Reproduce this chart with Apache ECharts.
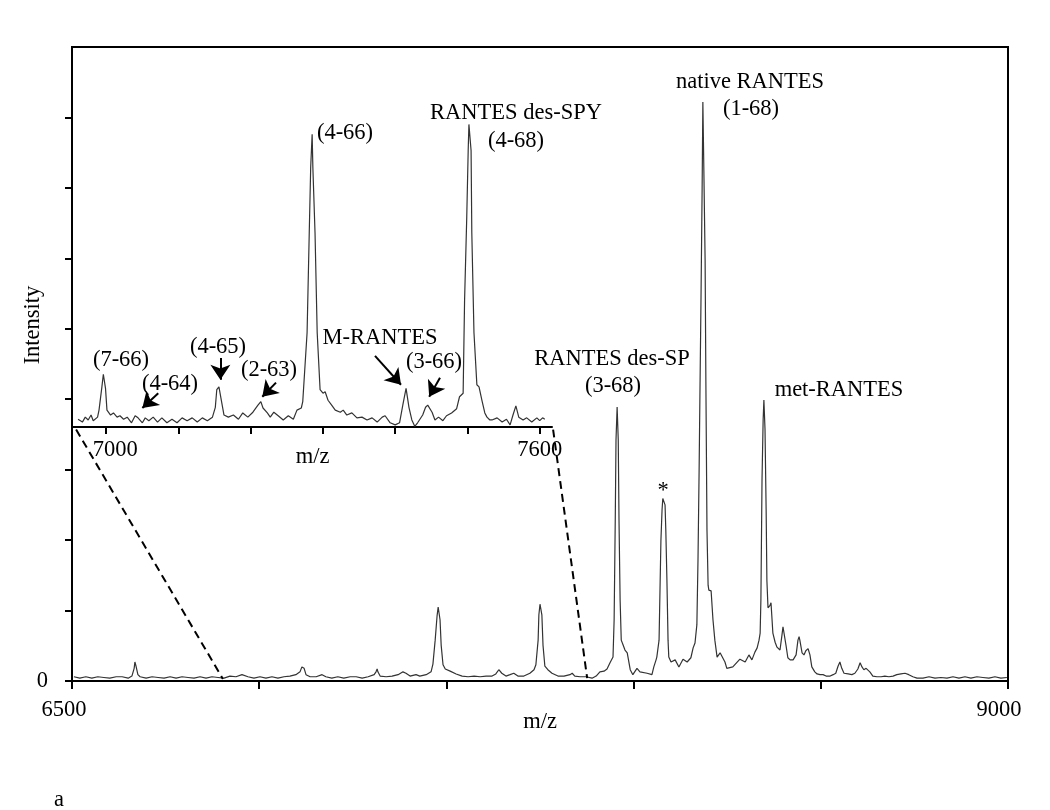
<!DOCTYPE html>
<html>
<head>
<meta charset="utf-8">
<title>RANTES mass spectrum</title>
<script src="https://cdn.jsdelivr.net/npm/echarts@6.0.0/dist/echarts.min.js"></script>
<style>
  html, body { margin: 0; padding: 0; background: #fff; }
  #chart { width: 1050px; height: 810px; }
</style>
</head>
<body>
<div id="chart"></div>
<script>
// full spectrum (m/z 6500 - 9000)
const mainMz = [
  6505, 6521, 6537, 6553, 6569, 6585, 6601, 6618, 6634, 6650, 6660, 6666, 6668, 6671, 6676, 6682,
  6698, 6714, 6730, 6746, 6762, 6778, 6794, 6810, 6826, 6842, 6858, 6874, 6890, 6906, 6922, 6938,
  6954, 6970, 6986, 7002, 7018, 7034, 7050, 7066, 7082, 7098, 7109, 7114, 7117, 7120, 7125, 7136,
  7152, 7168, 7178, 7194, 7210, 7226, 7243, 7259, 7275, 7291, 7307, 7312, 7315, 7317, 7323, 7339,
  7355, 7371, 7384, 7392, 7403, 7419, 7429, 7446, 7459, 7464, 7470, 7475, 7478, 7481, 7483, 7486,
  7491, 7497, 7510, 7526, 7542, 7558, 7574, 7590, 7606, 7622, 7632, 7640, 7643, 7648, 7659, 7670,
  7680, 7691, 7707, 7723, 7734, 7739, 7745, 7747, 7750, 7753, 7755, 7758, 7763, 7771, 7782, 7798,
  7814, 7830, 7836, 7843, 7857, 7873, 7889, 7900, 7910, 7921, 7929, 7937, 7945, 7948, 7951, 7953,
  7956, 7959, 7961, 7964, 7967, 7972, 7977, 7983, 7991, 7998, 8009, 8017, 8022, 8036, 8049, 8054,
  8060, 8062, 8068, 8070, 8073, 8076, 8078, 8081, 8084, 8086, 8089, 8092, 8094, 8100, 8111, 8121,
  8132, 8143, 8153, 8159, 8164, 8169, 8172, 8175, 8177, 8180, 8183, 8185, 8188, 8191, 8193, 8196,
  8199, 8201, 8207, 8212, 8217, 8223, 8231, 8236, 8244, 8249, 8265, 8284, 8298, 8308, 8316, 8324,
  8330, 8335, 8338, 8340, 8343, 8346, 8348, 8351, 8354, 8356, 8359, 8364, 8367, 8372, 8378, 8383,
  8391, 8396, 8399, 8402, 8407, 8412, 8418, 8426, 8434, 8439, 8442, 8444, 8450, 8455, 8460, 8466,
  8471, 8476, 8484, 8490, 8498, 8506, 8514, 8525, 8533, 8540, 8546, 8551, 8556, 8562, 8573, 8583,
  8591, 8599, 8605, 8610, 8615, 8621, 8626, 8631, 8639, 8650, 8661, 8671, 8682, 8693, 8703, 8714,
  8725, 8735, 8746, 8757, 8773, 8789, 8805, 8821, 8837, 8853, 8869, 8885, 8901, 8917, 8933, 8949,
  8965, 8981, 8997
];
const mainIntensity = [
  0.06, 0.04, 0.06, 0.04, 0.06, 0.05, 0.04, 0.06, 0.06, 0.04, 0.07, 0.18, 0.27, 0.21, 0.09, 0.06,
  0.04, 0.06, 0.05, 0.04, 0.06, 0.04, 0.06, 0.05, 0.04, 0.06, 0.04, 0.06, 0.05, 0.04, 0.07, 0.06,
  0.09, 0.06, 0.04, 0.06, 0.04, 0.06, 0.04, 0.06, 0.07, 0.09, 0.13, 0.20, 0.21, 0.18, 0.09, 0.06,
  0.06, 0.09, 0.06, 0.04, 0.06, 0.04, 0.06, 0.06, 0.04, 0.06, 0.09, 0.13, 0.17, 0.13, 0.07, 0.06,
  0.07, 0.09, 0.13, 0.11, 0.07, 0.09, 0.07, 0.09, 0.13, 0.24, 0.58, 0.92, 1.05, 1.05, 0.87, 0.51,
  0.23, 0.17, 0.14, 0.10, 0.07, 0.06, 0.07, 0.06, 0.07, 0.07, 0.10, 0.16, 0.17, 0.11, 0.07, 0.09,
  0.11, 0.07, 0.07, 0.11, 0.16, 0.23, 0.58, 0.94, 1.09, 1.09, 0.94, 0.51, 0.21, 0.16, 0.11, 0.07,
  0.07, 0.09, 0.11, 0.07, 0.06, 0.06, 0.04, 0.07, 0.13, 0.14, 0.17, 0.26, 0.34, 0.87, 2.29, 3.42,
  3.89, 3.42, 2.29, 1.15, 0.58, 0.51, 0.44, 0.40, 0.16, 0.09, 0.18, 0.13, 0.11, 0.11, 0.09, 0.20,
  0.30, 0.34, 0.58, 1.15, 2.00, 2.43, 2.59, 2.61, 2.50, 2.15, 1.43, 0.58, 0.34, 0.27, 0.30, 0.20,
  0.31, 0.27, 0.33, 0.47, 0.54, 0.80, 1.72, 3.00, 3.99, 5.41, 6.97, 8.22, 7.12, 5.98, 4.28, 2.14,
  1.36, 1.29, 1.28, 0.87, 0.58, 0.34, 0.40, 0.41, 0.27, 0.18, 0.20, 0.31, 0.27, 0.37, 0.30, 0.41,
  0.47, 0.58, 0.68, 1.15, 2.86, 3.71, 3.99, 3.57, 2.43, 1.43, 1.04, 1.07, 1.11, 0.68, 0.55, 0.48,
  0.44, 0.64, 0.77, 0.75, 0.51, 0.33, 0.30, 0.30, 0.37, 0.58, 0.63, 0.58, 0.40, 0.37, 0.43, 0.46,
  0.37, 0.20, 0.13, 0.10, 0.09, 0.09, 0.07, 0.07, 0.09, 0.11, 0.21, 0.27, 0.18, 0.11, 0.10, 0.09,
  0.11, 0.17, 0.26, 0.20, 0.16, 0.18, 0.20, 0.13, 0.07, 0.06, 0.06, 0.07, 0.06, 0.07, 0.09, 0.10,
  0.11, 0.09, 0.06, 0.04, 0.04, 0.06, 0.04, 0.05, 0.04, 0.06, 0.04, 0.06, 0.04, 0.06, 0.05, 0.04,
  0.06, 0.04, 0.05
];

// zoomed inset (m/z ~6950 - 7620)
const insetMz = [
  6961, 6967, 6971, 6975, 6979, 6982, 6988, 6990, 6994, 6996, 6999, 7001, 7006, 7010, 7015, 7019,
  7024, 7029, 7035, 7040, 7044, 7050, 7054, 7059, 7065, 7071, 7077, 7084, 7091, 7098, 7105, 7112,
  7119, 7126, 7133, 7140, 7147, 7151, 7153, 7156, 7160, 7163, 7169, 7176, 7183, 7189, 7196, 7203,
  7210, 7214, 7217, 7223, 7227, 7232, 7238, 7245, 7252, 7259, 7264, 7270, 7272, 7278, 7281, 7283,
  7285, 7286, 7289, 7292, 7296, 7300, 7303, 7307, 7312, 7317, 7324, 7328, 7333, 7340, 7347, 7354,
  7361, 7368, 7375, 7382, 7386, 7393, 7400, 7406, 7411, 7415, 7419, 7423, 7427, 7431, 7438, 7442,
  7445, 7451, 7455, 7460, 7466, 7471, 7478, 7485, 7489, 7494, 7496, 7499, 7501, 7502, 7505, 7506,
  7509, 7513, 7516, 7520, 7524, 7527, 7531, 7534, 7541, 7548, 7554, 7559, 7563, 7567, 7571, 7577,
  7582, 7589, 7596, 7600, 7604, 7607
];
const insetIntensity = [
  0.11, 0.07, 0.14, 0.10, 0.17, 0.09, 0.14, 0.24, 0.57, 0.75, 0.55, 0.24, 0.17, 0.20, 0.14, 0.16,
  0.11, 0.14, 0.06, 0.16, 0.13, 0.06, 0.13, 0.09, 0.14, 0.07, 0.13, 0.06, 0.11, 0.06, 0.13, 0.09,
  0.13, 0.07, 0.13, 0.09, 0.14, 0.28, 0.53, 0.57, 0.34, 0.17, 0.14, 0.17, 0.11, 0.20, 0.14, 0.21,
  0.31, 0.36, 0.27, 0.20, 0.14, 0.21, 0.16, 0.10, 0.16, 0.11, 0.24, 0.27, 0.36, 1.34, 2.76, 3.69,
  4.16, 3.69, 2.76, 1.34, 0.53, 0.48, 0.50, 0.38, 0.31, 0.24, 0.21, 0.24, 0.17, 0.20, 0.13, 0.14,
  0.10, 0.13, 0.07, 0.14, 0.16, 0.06, 0.03, 0.06, 0.34, 0.55, 0.28, 0.10, 0.01, 0.06, 0.17, 0.28,
  0.31, 0.21, 0.10, 0.14, 0.09, 0.16, 0.20, 0.26, 0.43, 0.48, 1.80, 2.98, 3.93, 4.30, 3.93, 2.76,
  1.34, 0.60, 0.57, 0.38, 0.20, 0.14, 0.10, 0.10, 0.13, 0.07, 0.11, 0.03, 0.17, 0.30, 0.14, 0.10,
  0.13, 0.07, 0.13, 0.09, 0.13, 0.11
];

// axis ticks / labels
const mainXTicks = [6500, 7000, 7500, 8000, 8500, 9000];
const mainXLabels = [6500, 9000];
const mainYTicks = [0, 1, 2, 3, 4, 5, 6, 7, 8];
const insetXTicks = [7000, 7100, 7200, 7300, 7400, 7500, 7600];
const insetXLabels = [7000, 7600];

// arrows in the inset, [m/z, intensity] start -> end
const arrowStart = [[7072, 0.48], [7158, 0.98], [7235, 0.63], [7372, 1.01], [7462, 0.70]];
const arrowEnd = [[7050, 0.27], [7158, 0.67], [7216, 0.43], [7408, 0.60], [7447, 0.43]];

// dashed zoom connectors on the main axes
const connectorLeft = [[6511, 3.57], [6903, 0.03]];
const connectorRight = [[7785, 3.57], [7876, 0.04]];

const FONT = '"Liberation Serif", "Times New Roman", serif';
const FS = 22.5;

function zip(xs, ys) {
  return xs.map((x, i) => [x, ys[i]]);
}

function txt(text, x, y, extra) {
  return {
    type: 'text',
    x: x,
    y: y,
    rotation: (extra && extra.rotation) || 0,
    silent: true,
    style: {
      text: text,
      font: FS + 'px ' + FONT,
      fill: '#000',
      align: 'center',
      verticalAlign: 'middle',
    },
  };
}

const chart = echarts.init(document.getElementById('chart'), null, { renderer: 'canvas' });

const labelStyle = { fontFamily: FONT, fontSize: FS, color: '#000' };

const option = {
  animation: false,
  backgroundColor: '#fff',
  textStyle: { fontFamily: FONT, color: '#000' },
  grid: [
    { left: 72, top: 47, width: 936, height: 634, show: true, borderColor: '#000', borderWidth: 2 },
    { left: 73, top: 47, width: 479, height: 380 },
  ],
  xAxis: [
    {
      gridIndex: 0,
      type: 'value',
      min: 6500,
      max: 9000,
      interval: 500,
      name: 'm/z',
      nameLocation: 'middle',
      nameGap: 30,
      nameMoveOverlap: false,
      nameTextStyle: labelStyle,
      axisLine: { lineStyle: { color: '#000', width: 2 } },
      axisTick: { length: 8, customValues: mainXTicks, lineStyle: { color: '#000', width: 2 } },
      axisLabel: {
        customValues: mainXLabels,
        margin: 18,
        formatter: (v) => (v === 6500 ? '{a|' + v + '}' : '{b|' + v + '}'),
        rich: {
          a: Object.assign({ padding: [0, 16, 0, 0] }, labelStyle),
          b: Object.assign({ padding: [0, 18, 0, 0] }, labelStyle),
        },
      },
      splitLine: { show: false },
    },
    {
      gridIndex: 1,
      type: 'value',
      min: 6954,
      max: 7617,
      name: 'm/z',
      nameLocation: 'middle',
      nameGap: 19,
      nameMoveOverlap: false,
      nameTextStyle: labelStyle,
      axisLine: { lineStyle: { color: '#000', width: 2 } },
      axisTick: { length: 7, customValues: insetXTicks, lineStyle: { color: '#000', width: 2 } },
      axisLabel: {
        customValues: insetXLabels,
        margin: 12,
        formatter: (v) => (v === 7000 ? '{r|' + v + '}' : '{c|' + v + '}'),
        rich: {
          r: Object.assign({ padding: [0, 0, 0, 18] }, labelStyle),
          c: labelStyle,
        },
      },
      splitLine: { show: false },
    },
  ],
  yAxis: [
    {
      gridIndex: 0,
      type: 'value',
      min: 0,
      max: 9,
      interval: 1,
      axisLine: { show: true, lineStyle: { color: '#000', width: 2 } },
      axisTick: { show: true, length: 7, customValues: mainYTicks, lineStyle: { color: '#000', width: 2 } },
      axisLabel: Object.assign({ customValues: [0], margin: 24 }, labelStyle),
      splitLine: { show: false },
    },
    {
      gridIndex: 1,
      type: 'value',
      min: 0,
      max: 5.4,
      show: false,
      splitLine: { show: false },
    },
  ],
  series: [
    {
      name: 'spectrum',
      type: 'line',
      xAxisIndex: 0,
      yAxisIndex: 0,
      data: zip(mainMz, mainIntensity),
      showSymbol: false,
      lineStyle: { color: '#333', width: 1.2 },
    },
    {
      name: 'inset',
      type: 'line',
      xAxisIndex: 1,
      yAxisIndex: 1,
      data: zip(insetMz, insetIntensity),
      showSymbol: false,
      lineStyle: { color: '#333', width: 1.2 },
    },
    {
      name: 'zoom-left',
      type: 'line',
      xAxisIndex: 0,
      yAxisIndex: 0,
      data: connectorLeft,
      showSymbol: false,
      lineStyle: { color: '#000', width: 2, type: [8, 5] },
    },
    {
      name: 'zoom-right',
      type: 'line',
      xAxisIndex: 0,
      yAxisIndex: 0,
      data: connectorRight,
      showSymbol: false,
      lineStyle: { color: '#000', width: 2, type: [8, 5] },
    },
    {
      name: 'arrows',
      type: 'lines',
      coordinateSystem: 'cartesian2d',
      xAxisIndex: 1,
      yAxisIndex: 1,
      symbol: ['none', 'arrow'],
      symbolSize: 15,
      lineStyle: { color: '#000', width: 2, opacity: 1, curveness: 0 },
      data: arrowStart.map((s, i) => ({ coords: [s, arrowEnd[i]] })),
    },
  ],
  graphic: [
    txt('Intensity', 33, 325, { rotation: Math.PI / 2 }),
    // inset annotations
    txt('(7-66)', 121, 360),
    txt('(4-64)', 170, 384),
    txt('(4-65)', 218, 347),
    txt('(2-63)', 269, 370),
    txt('(4-66)', 345, 133),
    txt('M-RANTES', 380, 338),
    txt('(3-66)', 434, 362),
    txt('RANTES des-SPY', 516, 113),
    txt('(4-68)', 516, 141),
    // main annotations
    txt('native RANTES', 750, 82),
    txt('(1-68)', 751, 109),
    txt('RANTES des-SP', 612, 359),
    txt('(3-68)', 613, 386),
    txt('met-RANTES', 839, 390),
    txt('*', 663, 491),
    txt('a', 59, 800),
  ],
};

chart.setOption(option);
</script>
</body>
</html>
